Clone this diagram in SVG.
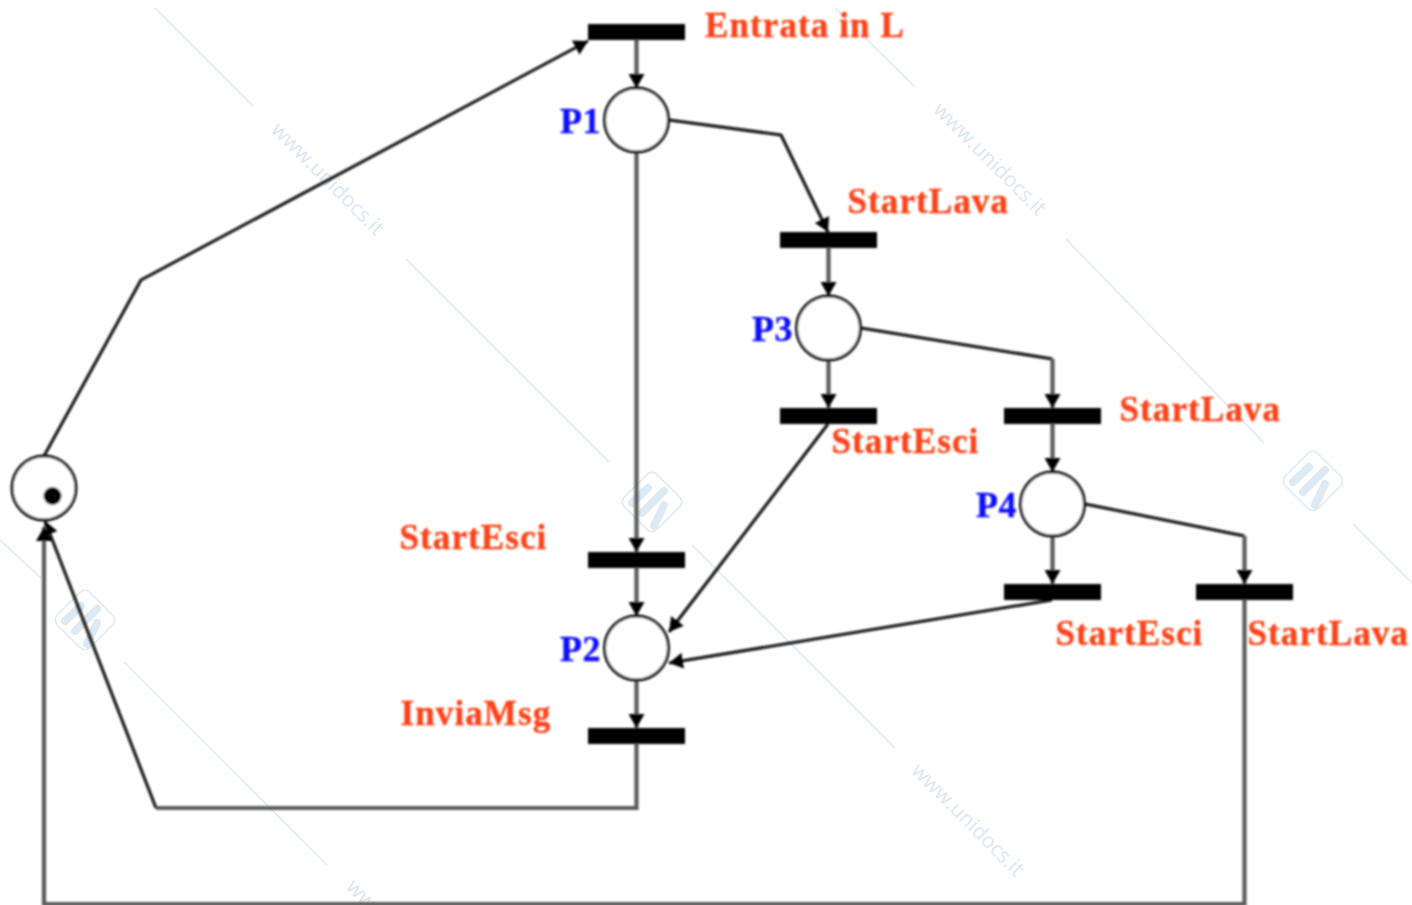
<svg xmlns="http://www.w3.org/2000/svg" width="1412" height="905" viewBox="0 0 1412 905">
<style>
.t{font-family:"Liberation Serif","Times New Roman",serif;font-weight:bold;font-size:35px;letter-spacing:1.1px;fill:#ff3f14;stroke:#ff3f14;stroke-width:.35}
.p{font-family:"Liberation Serif","Times New Roman",serif;font-weight:bold;font-size:36px;letter-spacing:.6px;fill:#1010ff;stroke:#1010ff;stroke-width:.35}
.bar{fill:#000}
.pl{fill:#fff;stroke:#111;stroke-width:3}
.c{fill:none;stroke:#0c0c0c;stroke-width:3;stroke-linejoin:round}
.v{fill:none;stroke:#5a5a5a;stroke-width:4.2}
.wl{stroke:#dbe8f3;stroke-width:1.3;fill:none}
.wt{font-family:"Open Sans","DejaVu Sans",sans-serif;font-size:21px;fill:#dbe8f3}
.lg{fill:none;stroke:#dde9f3;stroke-width:1.5}
.lm{fill:none;stroke:#dde9f3;stroke-width:8;stroke-linecap:round;stroke-linejoin:round}
</style>
<defs>
<marker id="a" markerUnits="userSpaceOnUse" markerWidth="16" markerHeight="16" refX="14" refY="8" orient="auto"><path d="M0,0L14,8L0,16Z" fill="#000"/></marker>
<filter id="s" x="-5%" y="-5%" width="110%" height="110%"><feGaussianBlur stdDeviation="0.8"/></filter>
<g id="logo"><rect x="-23" y="-23" width="46" height="46" rx="7" class="lg" transform="rotate(45)"/><path class="lm" d="M-20,1L-4,-14M-10,11L12,-11M2,24L12,3"/></g>
</defs>
<rect width="1412" height="905" fill="#fff"/>
<g id="watermark">
<path class="wl" d="M155,8L253,106M406,259L609,462M835,8L915,87M1066,239L1264,443M0,540L41,578M124,662L327,865M692,545L895,748M1353,524L1412,583"/>
<text class="wt" transform="translate(270,131) rotate(45)">www.unidocs.it</text>
<text class="wt" transform="translate(932,111) rotate(45)">www.unidocs.it</text>
<text class="wt" transform="translate(910,772) rotate(45)">www.unidocs.it</text>
<text class="wt" transform="translate(345,888) rotate(45)">www.unidocs.it</text>
<use href="#logo" x="652" y="502"/>
<use href="#logo" x="1313" y="481"/>
<use href="#logo" x="85" y="620"/>
</g>
<g filter="url(#s)">
<g id="connectors">
<path class="c" d="M44,456L141,280L588,41" marker-end="url(#a)"/>
<path class="v" d="M636.5,40V88" marker-end="url(#a)"/>
<path class="c" d="M669,120L781,135L828,232" marker-end="url(#a)"/>
<path class="v" d="M636.5,152V552" marker-end="url(#a)"/>
<path class="v" d="M636.5,568V616" marker-end="url(#a)"/>
<path class="v" d="M828.5,248V296" marker-end="url(#a)"/>
<path class="v" d="M828.5,360V408" marker-end="url(#a)"/>
<path class="c" d="M861,328L1052.5,359"/>
<path class="v" d="M1052.5,359V408" marker-end="url(#a)"/>
<path class="c" d="M828,424L669,632" marker-end="url(#a)"/>
<path class="v" d="M1052.5,424V472" marker-end="url(#a)"/>
<path class="v" d="M1052.5,536V584" marker-end="url(#a)"/>
<path class="c" d="M1085,504L1244.5,536"/>
<path class="v" d="M1244.5,536V584" marker-end="url(#a)"/>
<path class="c" d="M1052,600L669,663" marker-end="url(#a)"/>
<path class="v" d="M636.5,680V728" marker-end="url(#a)"/>
<path class="v" d="M636.5,744V808H156"/>
<path class="c" d="M156,808L45,521" marker-end="url(#a)"/>
<path class="v" d="M1244.5,600V904H44V527" marker-end="url(#a)"/>
</g>
<g id="T-entrata"><rect class="bar" x="588" y="24" width="97" height="16"/><text class="t" x="705" y="37">Entrata in L</text></g>
<g id="P1"><circle class="pl" cx="636.5" cy="120" r="32"/><text class="p" x="560" y="133">P1</text></g>
<g id="T-startlava1"><rect class="bar" x="780" y="232" width="97" height="16"/><text class="t" x="847.5" y="213">StartLava</text></g>
<g id="P3"><circle class="pl" cx="828.5" cy="328" r="32"/><text class="p" x="752" y="341">P3</text></g>
<g id="T-startesci3"><rect class="bar" x="780" y="408" width="97" height="16"/><text class="t" x="831.5" y="453">StartEsci</text></g>
<g id="T-startlava2"><rect class="bar" x="1004" y="408" width="97" height="16"/><text class="t" x="1119.5" y="421">StartLava</text></g>
<g id="P4"><circle class="pl" cx="1052.5" cy="504" r="32"/><text class="p" x="976" y="517">P4</text></g>
<g id="T-startesci4"><rect class="bar" x="1004" y="584" width="97" height="16"/><text class="t" x="1055.5" y="645">StartEsci</text></g>
<g id="T-startlava3"><rect class="bar" x="1196" y="584" width="97" height="16"/><text class="t" x="1247.5" y="645">StartLava</text></g>
<g id="T-startesci1"><rect class="bar" x="588" y="552" width="97" height="16"/><text class="t" x="399.5" y="549">StartEsci</text></g>
<g id="P2"><circle class="pl" cx="636.5" cy="648" r="32"/><text class="p" x="560" y="661">P2</text></g>
<g id="T-inviamsg"><rect class="bar" x="588" y="728" width="97" height="16"/><text class="t" x="400.5" y="725">InviaMsg</text></g>
<g id="P0"><circle class="pl" cx="44" cy="488" r="32"/><circle cx="52.5" cy="496" r="9" fill="#000"/></g>
</g>
</svg>
